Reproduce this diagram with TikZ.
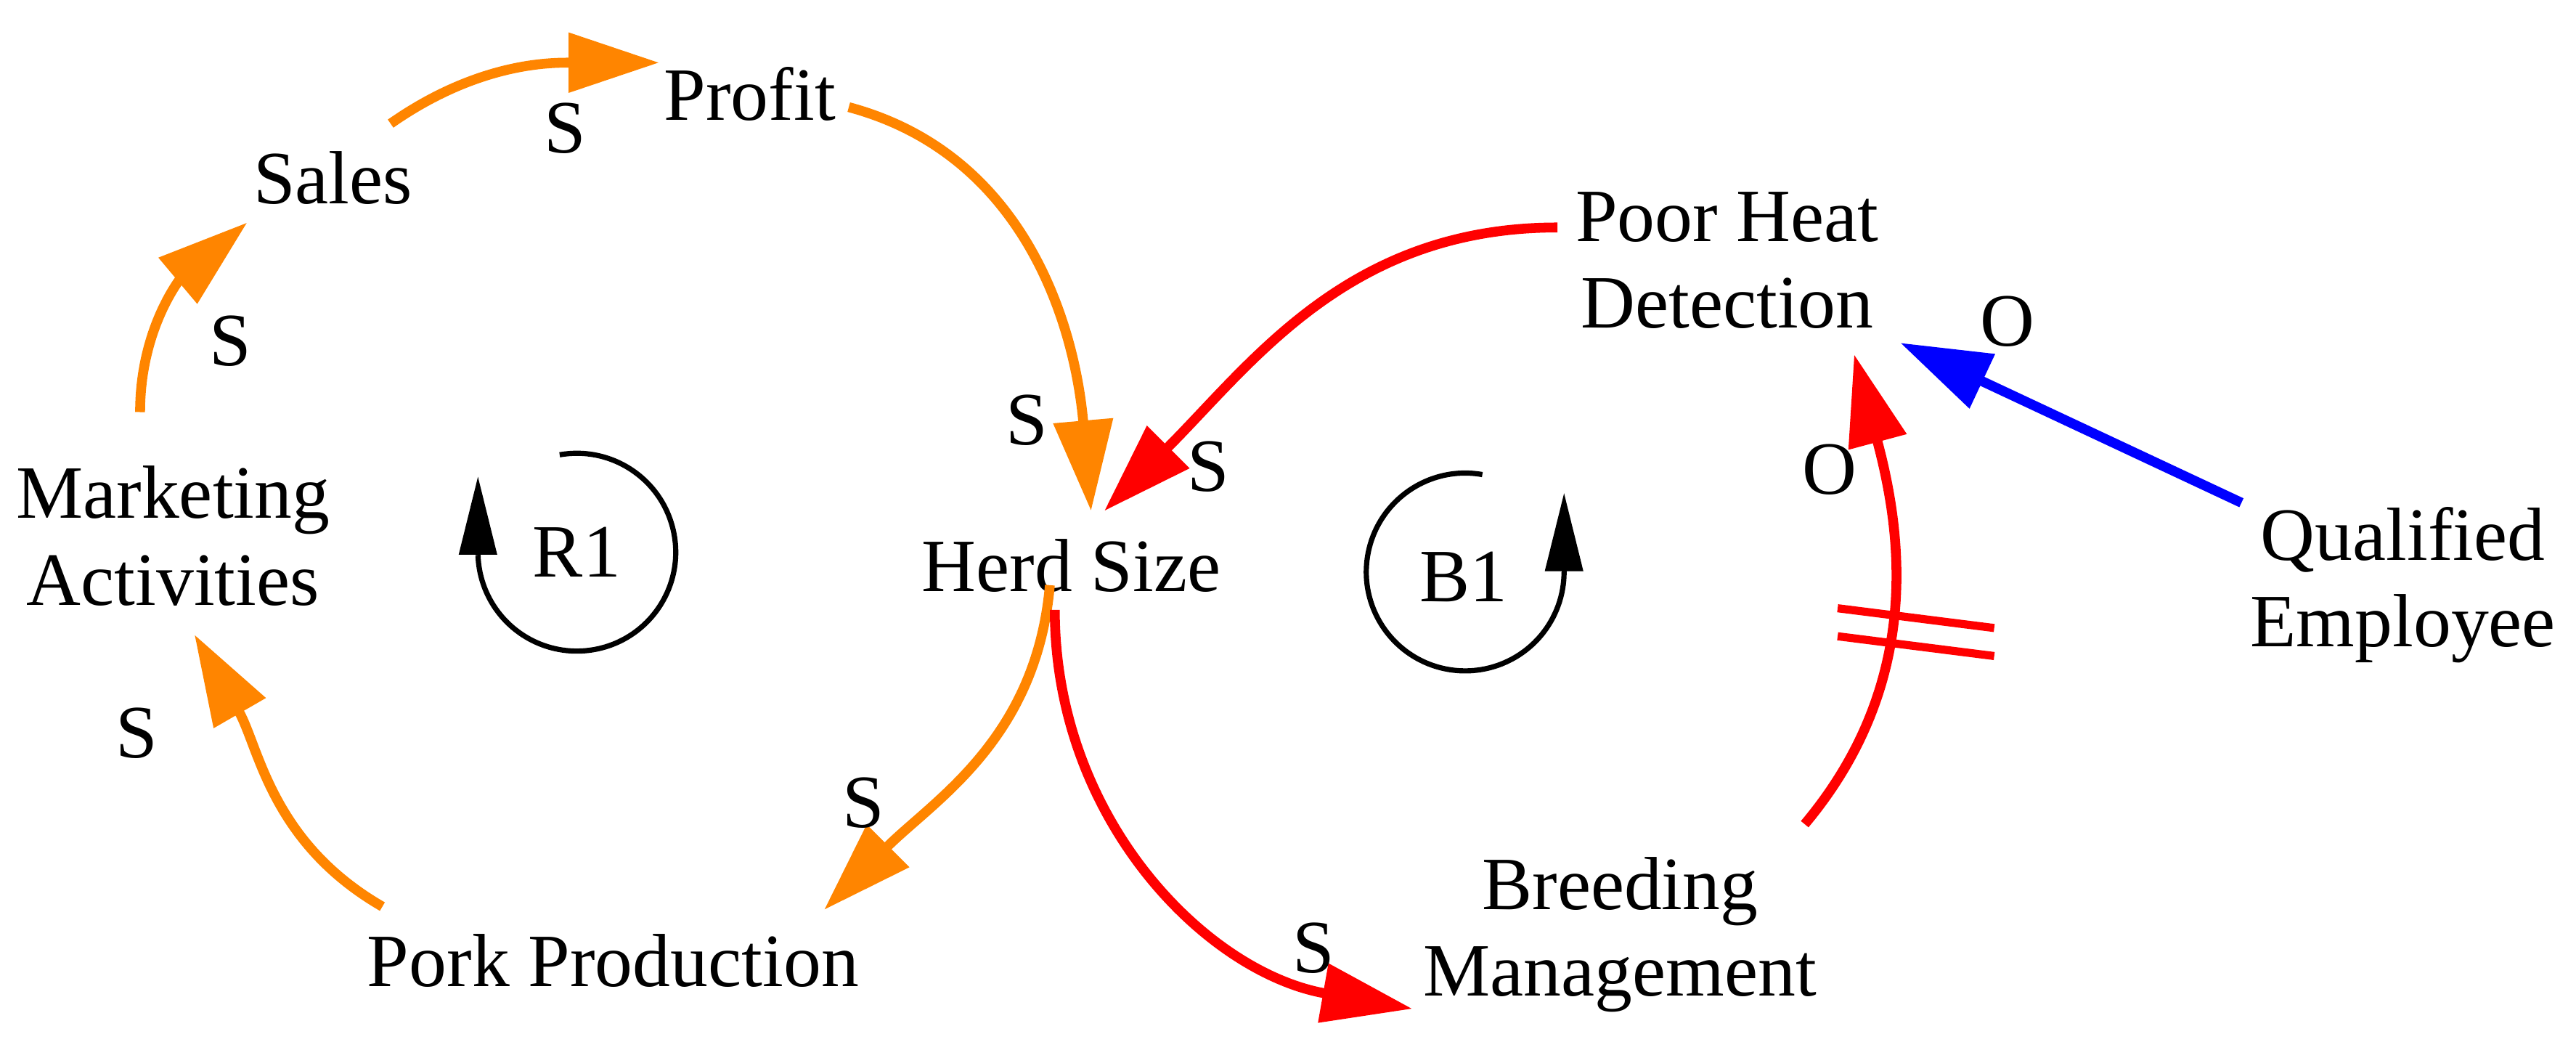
\documentclass[tikz,border=0pt]{standalone}
\usepackage{fontspec}
\setmainfont{Liberation Serif}
\usetikzlibrary{arrows.meta}
\definecolor{org}{RGB}{255,133,0}
\definecolor{rd}{RGB}{255,0,0}
\definecolor{bl}{RGB}{0,0,255}
\begin{document}
\begin{tikzpicture}[x=0.02cm,y=0.02cm,
  lab/.style={font=\fontsize{26}{30}\selectfont, align=center, inner sep=0pt},
  pol/.style={font=\fontsize{26}{30}\selectfont, inner sep=0pt},
  lnk/.style={line width=3.4pt, -{Triangle[length=1.1cm,width=0.7cm]}},
  loop/.style={line width=1.8pt}]
\useasboundingbox (0,0) rectangle (1563,637);
\node[lab] (profit) at (455,580) {Profit};
\node[lab] (sales) at (202,529) {Sales};
\node[lab] (mkt) at (105,312) {Marketing\\Activities};
\node[lab] (pork) at (372,54) {Pork Production};
\node[lab] (herd) at (650,294) {Herd Size};
\node[lab] (phd) at (1048,479) {Poor Heat\\Detection};
\node[lab] (qe) at (1458,282) {Qualified\\Employee};
\node[lab] (bm) at (983,70) {Breeding\\Management};
\node[lab] (r1) at (350,302) {R1};
\node[lab] (b1) at (888,287) {B1};
\coordinate (a1) at (237,562); \coordinate (b1e) at (400,599);
\coordinate (a2) at (85,387); \coordinate (b2) at (150,502);
\coordinate (a3) at (232,87); \coordinate (b3) at (118,252);
\coordinate (a4) at (637,282); \coordinate (b4) at (500,85);
\coordinate (a5) at (515,572); \coordinate (b5) at (662,327);
\coordinate (a6) at (945,499); \coordinate (b6) at (670,327);
\coordinate (a7) at (640,267); \coordinate (b7) at (857,25);
\coordinate (a8) at (1095,137); \coordinate (b8) at (1125,422);
\coordinate (a9) at (1360,332); \coordinate (b9) at (1153,429);
\draw[lnk,org] (a1) to[out=35,in=180] (b1e);
\draw[lnk,org] (a2) to[out=90,in=220] (b2);
\draw[lnk,org] (a3) to[out=150,in=-60] (b3);
\draw[lnk,org] (a4) to[out=-95,in=45] (b4);
\draw[lnk,org] (a5) to[out=-15,in=95] (b5);
\draw[lnk,rd] (a6) to[out=180,in=45] (b6);
\draw[lnk,rd] (a7) to[out=-90,in=170] (b7);
\draw[lnk,rd] (a8) to[out=50,in=-75] (b8);
\draw[lnk,bl] (a9) -- (b9);
\draw[rd,line width=2.8pt] (1115,268) -- (1210,256) (1115,251) -- (1210,239);
\node[pol] at (343,559) {S};
\node[pol] at (140,430) {S};
\node[pol] at (83,192) {S};
\node[pol] at (524,150) {S};
\node[pol] at (623,382) {S};
\node[pol] at (733,354) {S};
\node[pol] at (797,62) {S};
\node[pol] at (1110,352) {O};
\node[pol] at (1218,442) {O};
\coordinate (r1s) at (290,300); \coordinate (r1t) at (290,348);
\coordinate (b1s) at (949,290); \coordinate (b1t) at (949,338);
\draw[loop] (350,302)+(100:60) arc[start angle=100,end angle=-178,radius=60];
\draw[loop] (889,290)+(80:60) arc[start angle=80,end angle=360,radius=60];
\draw[line width=1.8pt,-{Triangle[length=0.95cm,width=0.45cm]}] (r1s) -- (r1t);
\draw[line width=1.8pt,-{Triangle[length=0.95cm,width=0.45cm]}] (b1s) -- (b1t);
\end{tikzpicture}
\end{document}
